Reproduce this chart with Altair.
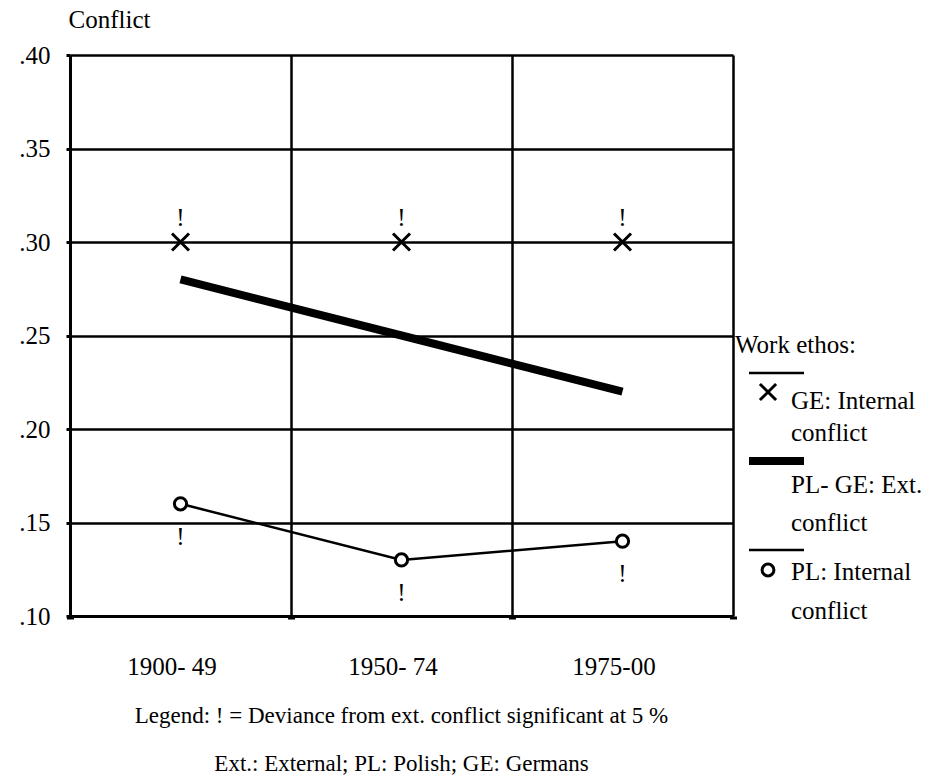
import altair as alt
import pandas as pd

# ---- data ----
periods = ["1900- 49", "1950- 74", "1975-00"]
ge_internal = [0.30, 0.30, 0.30]
ext_conflict = [0.28, 0.25, 0.22]
pl_internal = [0.16, 0.13, 0.14]
ge_sig = ["!", "!", "!"]
pl_sig = ["!", "!", "!"]
y_ticks = [0.10, 0.15, 0.20, 0.25, 0.30, 0.35, 0.40]

df = pd.DataFrame({
    "period": periods,
    "ge": ge_internal,
    "ext": ext_conflict,
    "pl": pl_internal,
    "ge_sig": ge_sig,
    "pl_sig": pl_sig,
})

FONT = "Liberation Serif"
FS = 25
X_PATH = "M-1,-1L1,1M1,-1L-1,1"

x_enc = alt.X(
    "period:N",
    sort=periods,
    scale=alt.Scale(paddingInner=0, paddingOuter=0),
    axis=alt.Axis(
        title=None,
        tickBand="extent",
        grid=True,
        gridColor="black",
        gridWidth=2.5,
        domain=True,
        domainColor="black",
        domainWidth=3,
        ticks=True,
        tickColor="black",
        tickSize=3,
        tickWidth=7,
        labelAngle=0,
        labelFont=FONT,
        labelFontSize=FS,
        labelColor="black",
        labelPadding=35,
        labelOffset=-9,
    ),
)

y_scale = alt.Scale(domain=[0.10, 0.40], nice=False, zero=False)
y_axis = alt.Axis(
    values=y_ticks,
    grid=True,
    gridColor="black",
    gridWidth=2.5,
    domain=True,
    domainColor="black",
    domainWidth=3,
    tickColor="black",
    tickSize=4,
    tickWidth=3,
    labelExpr="replace(format(datum.value, '.2f'), '0.', '.')",
    labelFont=FONT,
    labelFontSize=FS,
    labelColor="black",
    labelPadding=16,
    title="Conflict",
    titleAngle=0,
    titleAlign="left",
    titleBaseline="alphabetic",
    titleX=-2,
    titleY=-28,
    titleFont=FONT,
    titleFontSize=FS,
    titleFontWeight="normal",
    titleColor="black",
)

base = alt.Chart(df)

ext_line = base.mark_line(color="black", strokeWidth=8, strokeCap="butt").encode(
    x=x_enc,
    y=alt.Y("ext:Q", scale=y_scale, axis=y_axis),
)

pl_line = base.mark_line(color="black", strokeWidth=2.5).encode(
    x=alt.X("period:N", sort=periods),
    y=alt.Y("pl:Q", scale=y_scale),
)

pl_pts = base.mark_point(shape="circle", size=150, filled=False, color="black",
                         strokeWidth=3, opacity=1, fill="white", fillOpacity=1).encode(
    x=alt.X("period:N", sort=periods),
    y=alt.Y("pl:Q", scale=y_scale),
)

ge_pts = base.mark_point(shape=X_PATH, size=290, filled=False, color="black",
                         strokeWidth=3, opacity=1).encode(
    x=alt.X("period:N", sort=periods),
    y=alt.Y("ge:Q", scale=y_scale),
)

ge_txt = base.mark_text(font=FONT, fontSize=FS, dy=-24, color="black").encode(
    x=alt.X("period:N", sort=periods),
    y=alt.Y("ge:Q", scale=y_scale),
    text="ge_sig:N",
)

pl_txt = base.mark_text(font=FONT, fontSize=FS, dy=33, color="black").encode(
    x=alt.X("period:N", sort=periods),
    y=alt.Y("pl:Q", scale=y_scale),
    text="pl_sig:N",
)

# ---- manual legend ----
one = alt.Data(values=[{"k": 1}])


def ltext(txt, x, y):
    return alt.Chart(one).mark_text(font=FONT, fontSize=FS, align="left",
                                    baseline="middle", color="black").encode(
        x=alt.value(x), y=alt.value(y), text=alt.value(txt))


def lrule(y, w):
    return alt.Chart(one).mark_rule(color="black", strokeWidth=w, strokeCap="butt").encode(
        x=alt.value(679), x2=alt.value(734), y=alt.value(y))


legend_layers = [
    ltext("Work ethos:", 665, 290),
    lrule(318, 2.5),
    alt.Chart(one).mark_point(shape=X_PATH, size=260, filled=False, color="black",
                              strokeWidth=3, opacity=1).encode(
        x=alt.value(698), y=alt.value(337)),
    ltext("GE: Internal", 721, 346),
    ltext("conflict", 721, 378),
    lrule(406, 8),
    ltext("PL- GE: Ext.", 721, 430),
    ltext("conflict", 721, 468),
    lrule(495, 2.5),
    alt.Chart(one).mark_point(shape="circle", size=140, filled=False, color="black",
                              strokeWidth=3, opacity=1).encode(
        x=alt.value(698), y=alt.value(515)),
    ltext("PL: Internal", 721, 517),
    ltext("conflict", 721, 556),
]

chart = alt.layer(
    ext_line, pl_line, pl_pts, ge_pts, ge_txt, pl_txt, *legend_layers
).properties(
    width=663,
    height=561,
    autosize=alt.AutoSizeParams(type="none"),
    padding={"left": 70, "top": 55, "right": 204, "bottom": 160},
    title=alt.TitleParams(
        text=["Legend: ! = Deviance from ext. conflict significant at 5 %",
              "Ext.: External; PL: Polish; GE: Germans"],
        orient="bottom",
        anchor="middle",
        frame="group",
        baseline="top",
        offset=26,
        lineHeight=48,
        font=FONT,
        fontSize=23,
        fontWeight="normal",
        color="black",
    ),
).configure_view(
    strokeWidth=0
).configure(
    background="white"
)

chart.save("out.html", embed_options={"renderer": "svg", "actions": False})
